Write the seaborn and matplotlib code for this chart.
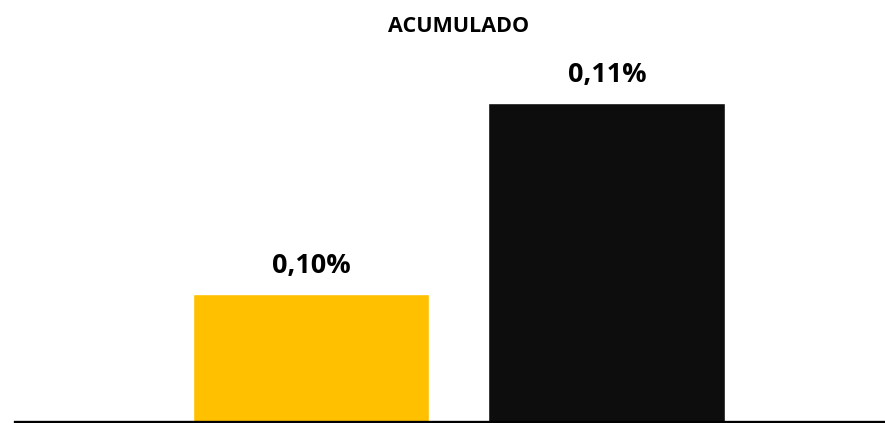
import matplotlib
matplotlib.use("Agg")
import matplotlib.pyplot as plt
import seaborn as sns
import pandas as pd

categories = ["A", "B"]
values = [0.10, 0.11]
labels = ["0,10%", "0,11%"]
colors = ["#FFC000", "#0D0D0D"]
title = "ACUMULADO"

sns.set_theme(style="white")
plt.rcParams['font.family'] = ['Open Sans', 'DejaVu Sans']

W, H = 885, 423
fig = plt.figure(figsize=(W / 100, H / 100), dpi=100)
ax = fig.add_axes([15 / W, 1.5 / H, 870 / W, (421.5 - 60) / H])

df = pd.DataFrame({"cat": categories, "val": values})
sns.barplot(data=df, x="cat", y="val", hue="cat", palette=colors, width=0.80,
            legend=False, ax=ax, saturation=1)

ax.set_xlim(-1.0, 1.94)
ax.set_ylim(0.093325, 0.11225)
for s in ["top", "right", "left"]:
    ax.spines[s].set_visible(False)
ax.spines["bottom"].set_linewidth(2.4)
ax.spines["bottom"].set_color("black")
ax.set_xticks([])
ax.set_yticks([])
ax.set_xlabel("")
ax.set_ylabel("")

for i, (v, lab) in enumerate(zip(values, labels)):
    ax.annotate(lab, (i, v), xytext=(0, 15), textcoords="offset points",
                ha="center", va="baseline", fontsize=19.5, fontweight="bold", color="black")

fig.text(459 / W, 1 - 26 / H, title, ha="center", va="center", fontsize=15.5,
         fontweight="bold", color="black")

fig.savefig("out.png", dpi=100)
